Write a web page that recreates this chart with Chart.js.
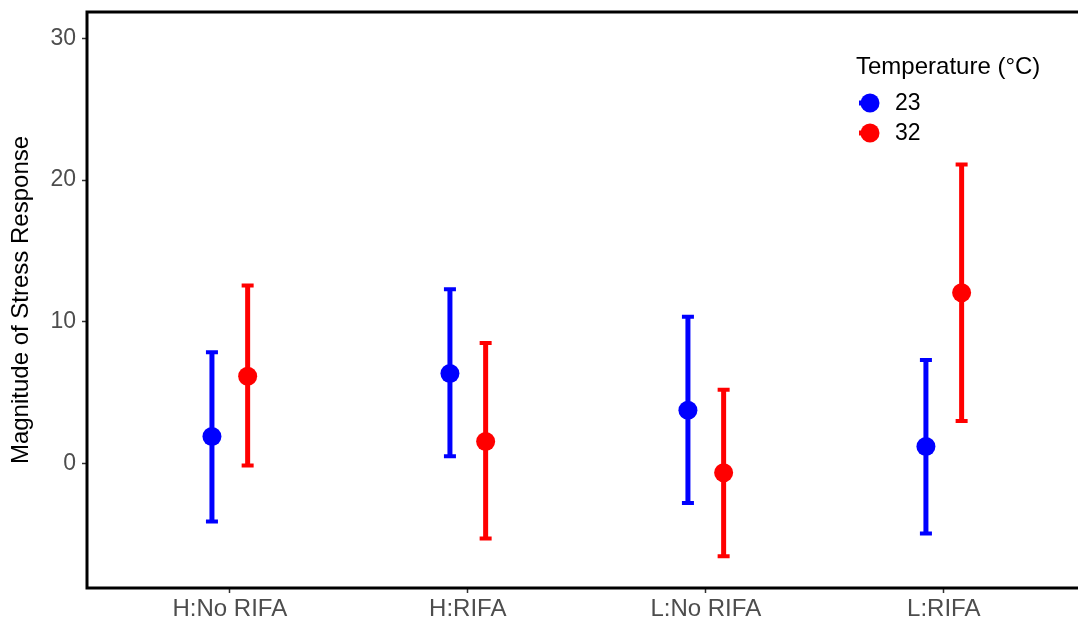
<!DOCTYPE html>
<html>
<head>
<meta charset="utf-8">
<script src="https://cdn.jsdelivr.net/npm/chart.js@4.4.1/dist/chart.umd.min.js"></script>
<style>
    html, body { margin: 0; padding: 0; background: #fff; }
    #wrap { width: 1078px; height: 624px; }
</style>
</head>
<body>
<div id="wrap"><canvas id="stressChart" width="1078" height="624"></canvas></div>
<script>
const categories = ["H:No RIFA", "H:RIFA", "L:No RIFA", "L:RIFA"];
const temps = ["23", "32"];
const colors = ["#0000FF", "#FF0000"];

// means and error bar ends
const mean23 = [1.9, 6.35, 3.75, 1.2];
const low23 = [-4.1, 0.5, -2.8, -4.95];
const high23 = [7.85, 12.3, 10.35, 7.3];
const mean32 = [6.15, 1.55, -0.65, 12.05];
const low32 = [-0.15, -5.3, -6.55, 3.0];
const high32 = [12.55, 8.5, 5.2, 21.1];

const yTicks = [0, 10, 20, 30];
const dodge = 0.075;
const fontFamily = "'Liberation Sans', Arial, sans-serif";

function makePoints(means, lows, highs, shift) {
    return means.map((m, i) => ({ x: i + 1 + shift, y: m, lo: lows[i], hi: highs[i] }));
}

const errorBars = {
    id: "errorBars",
    beforeDatasetsDraw(chart) {
        const ctx = chart.ctx;
        const xs = chart.scales.x;
        const ys = chart.scales.y;
        chart.data.datasets.forEach((ds) => {
            ctx.save();
            ctx.strokeStyle = ds.backgroundColor;
            ds.data.forEach((p) => {
                const x = xs.getPixelForValue(p.x);
                const yLo = ys.getPixelForValue(p.lo);
                const yHi = ys.getPixelForValue(p.hi);
                ctx.lineWidth = 5;
                ctx.beginPath();
                ctx.moveTo(x, yLo);
                ctx.lineTo(x, yHi);
                ctx.stroke();
                ctx.lineWidth = 4;
                ctx.beginPath();
                ctx.moveTo(x - 6, yLo);
                ctx.lineTo(x + 6, yLo);
                ctx.moveTo(x - 6, yHi);
                ctx.lineTo(x + 6, yHi);
                ctx.stroke();
            });
            ctx.restore();
        });
    }
};

const frameAndLegend = {
    id: "frameAndLegend",
    afterDraw(chart) {
        const ctx = chart.ctx;
        const a = chart.chartArea;
        ctx.save();
        ctx.strokeStyle = "#000";
        ctx.lineWidth = 3;
        ctx.strokeRect(a.left, a.top, a.right - a.left + 20, a.bottom - a.top);

        // legend
        ctx.fillStyle = "#000";
        ctx.font = "24px " + fontFamily;
        ctx.textBaseline = "alphabetic";
        ctx.textAlign = "left";
        ctx.fillText("Temperature (°C)", 856, 74);
        ctx.font = "23px " + fontFamily;
        ctx.textBaseline = "middle";
        chart.data.datasets.forEach((ds, i) => {
            const cy = 103 + i * 30;
            ctx.strokeStyle = ds.backgroundColor;
            ctx.lineWidth = 5;
            ctx.beginPath();
            ctx.moveTo(859, cy);
            ctx.lineTo(870, cy);
            ctx.stroke();
            ctx.fillStyle = ds.backgroundColor;
            ctx.beginPath();
            ctx.arc(870, cy, 9.5, 0, Math.PI * 2);
            ctx.fill();
            ctx.fillStyle = "#000";
            ctx.fillText(ds.label, 895, cy + 1);
        });
        ctx.restore();
    }
};

const ctx = document.getElementById("stressChart").getContext("2d");
new Chart(ctx, {
    type: "scatter",
    data: {
        datasets: [
            {
                label: temps[0],
                data: makePoints(mean23, low23, high23, -dodge),
                backgroundColor: colors[0],
                borderWidth: 0,
                pointRadius: 9.5,
                pointHoverRadius: 9.5
            },
            {
                label: temps[1],
                data: makePoints(mean32, low32, high32, dodge),
                backgroundColor: colors[1],
                borderWidth: 0,
                pointRadius: 9.5,
                pointHoverRadius: 9.5
            }
        ]
    },
    options: {
        responsive: false,
        animation: false,
        layout: { autoPadding: false, padding: { top: 12, right: 0, left: 0, bottom: 0 } },
        plugins: {
            legend: { display: false },
            tooltip: { enabled: false }
        },
        scales: {
            x: {
                type: "linear",
                min: 0.4,
                max: 4.564,
                afterFit: (s) => {
                    s.height = 36;
                    s.paddingLeft = 0;
                    s.paddingRight = 0;
                },
                afterBuildTicks: (s) => { s.ticks = categories.map((c, i) => ({ value: i + 1 })); },
                ticks: {
                    color: "#4d4d4d",
                    font: { family: fontFamily, size: 24 },
                    padding: 2,
                    maxRotation: 0,
                    autoSkip: false,
                    callback: (v) => categories[v - 1]
                },
                grid: { drawOnChartArea: false, drawTicks: true, tickLength: 5, tickColor: "#333", tickWidth: 1.5 },
                border: { display: false }
            },
            y: {
                type: "linear",
                min: -8.79,
                max: 31.86,
                afterFit: (s) => {
                    s.width = 87;
                    s.paddingTop = 0;
                    s.paddingBottom = 0;
                },
                afterBuildTicks: (s) => { s.ticks = yTicks.map((v) => ({ value: v })); },
                ticks: {
                    color: "#4d4d4d",
                    font: { family: fontFamily, size: 23 },
                    padding: 6
                },
                grid: { drawOnChartArea: false, drawTicks: true, tickLength: 5, tickColor: "#333", tickWidth: 1.5 },
                border: { display: false },
                title: {
                    display: true,
                    text: "Magnitude of Stress Response",
                    color: "#000",
                    font: { family: fontFamily, size: 24 },
                    padding: { top: 7, bottom: 0 }
                }
            }
        }
    },
    plugins: [errorBars, frameAndLegend]
});
</script>
</body>
</html>
